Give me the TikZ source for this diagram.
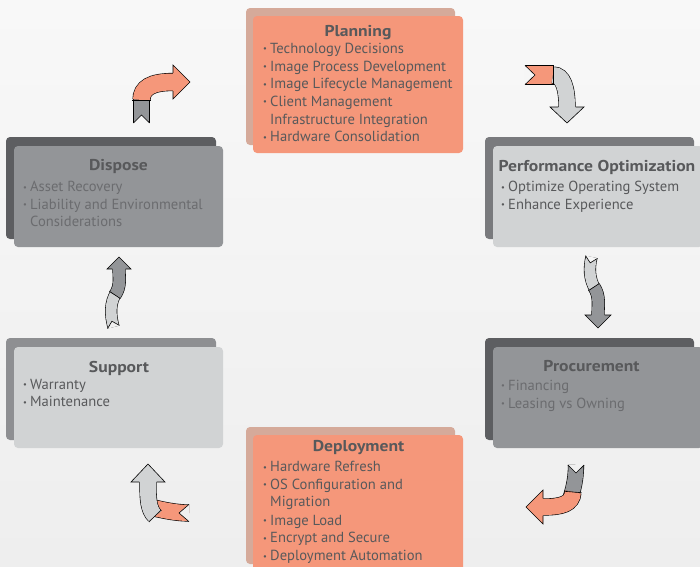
\documentclass[tikz,border=0pt]{standalone}
\usepackage{fontspec}
\setmainfont{PT Sans}
\newfontfamily\titlefont{PT Sans}[FakeStretch=1.12]
\usepackage{tikz}
\definecolor{salmon}{HTML}{F5977A}
\definecolor{salmonback}{HTML}{D5AA9A}
\definecolor{lightgr}{HTML}{D1D3D4}
\definecolor{midgr}{HTML}{939598}
\definecolor{darkgr}{HTML}{5D5E61}
\definecolor{perfback}{HTML}{797A7D}
\definecolor{suppback}{HTML}{8E8F92}
\definecolor{txt}{HTML}{58595B}
\definecolor{txtlight}{HTML}{6B6C6F}
\definecolor{bgtop}{HTML}{F8F8F8}
\definecolor{bgbot}{HTML}{EEEEEE}
\colorlet{bgup}{bgtop!80!bgbot}
\colorlet{bglow}{bgtop!25!bgbot}
\newcommand{\bul}{\llap{\raisebox{1.7pt}{\fontsize{8.5}{8.5}\selectfont\textbullet}\hspace{3.2pt}}}

\begin{document}
\begin{tikzpicture}[x=1pt, y=-1pt,
  every node/.style={font=\fontsize{14.6}{16}\selectfont, text=txt, inner sep=0pt},
  title/.style={font=\fontsize{15.7}{16}\selectfont\titlefont\bfseries, anchor=base},
  item/.style={anchor=base west},
  band/.style={draw=black, line width=0.6pt, double distance=#1},
  tip/.style={draw=black, line width=0.6pt}]
  \useasboundingbox (0,0) rectangle (700,566);
  \clip (0,0) rectangle (700,566);
  \shade[top color=bgtop, bottom color=bgbot] (0,0) rectangle (700,566);

  % Planning
  \fill[salmonback, rounded corners=4pt] (246,8) rectangle (455,145);
  \fill[salmon, rounded corners=4pt] (253,16) rectangle (463,153);
  \node[title] (plan) at (358,36) {Planning};
  \node[item] (plan-1) at (270,53.3) {\bul Technology Decisions};
  \node[item] (plan-2) at (270,71) {\bul Image Process Development};
  \node[item] (plan-3) at (270,88.7) {\bul Image Lifecycle Management};
  \node[item] (plan-4) at (270,106.3) {\bul Client Management};
  \node[item] (plan-5) at (270,124) {Infrastructure Integration};
  \node[item] (plan-6) at (270,141.7) {\bul Hardware Consolidation};

  % Performance Optimization
  \fill[perfback, rounded corners=4pt] (485,137) rectangle (694,239);
  \fill[lightgr, rounded corners=4pt] (493,146) rectangle (703,247);
  \node[title] (perf) at (597,171.7) {Performance Optimization};
  \node[item] (perf-1) at (508,191.7) {\bul Optimize Operating System};
  \node[item] (perf-2) at (508,209.3) {\bul Enhance Experience};

  % Procurement
  \fill[darkgr, rounded corners=4pt] (485,338) rectangle (694,440);
  \fill[midgr, rounded corners=4pt] (493,347) rectangle (703,448);
  \node[title] (proc) at (591.5,371.7) {Procurement};
  \node[item, text=txtlight] (proc-1) at (508,390) {\bul Financing};
  \node[item, text=txtlight] (proc-2) at (508,408.3) {\bul Leasing vs Owning};

  % Deployment
  \fill[salmonback, rounded corners=4pt] (246,427) rectangle (455,564);
  \fill[salmon, rounded corners=4pt] (253,435) rectangle (463,572);
  \node[title] (depl) at (358.5,451.7) {Deployment};
  \node[item] (depl-1) at (270,471.7) {\bul Hardware Refresh};
  \node[item] (depl-2) at (270,489.3) {\bul OS Configuration and};
  \node[item] (depl-3) at (270,506.7) {Migration};
  \node[item] (depl-4) at (270,525) {\bul Image Load};
  \node[item] (depl-5) at (270,542.7) {\bul Encrypt and Secure};
  \node[item] (depl-6) at (270,560.7) {\bul Deployment Automation};

  % Support
  \fill[suppback, rounded corners=4pt] (6,338) rectangle (216,440);
  \fill[lightgr, rounded corners=4pt] (14,347) rectangle (223,448);
  \node[title] (supp) at (119,372.3) {Support};
  \node[item] (supp-1) at (30,389.3) {\bul Warranty};
  \node[item] (supp-2) at (30,406.7) {\bul Maintenance};

  % Dispose
  \fill[darkgr, rounded corners=4pt] (6,137) rectangle (216,239);
  \fill[midgr, rounded corners=4pt] (14,146) rectangle (223,247);
  \node[title] (disp) at (118.5,170.7) {Dispose};
  \node[item, text=txtlight] (disp-1) at (30,191.7) {\bul Asset Recovery};
  \node[item, text=txtlight] (disp-2) at (30,209.3) {\bul Liability and Environmental};
  \node[item, text=txtlight] (disp-3) at (30,226.7) {Considerations};

  % Dispose -> Planning
  \draw[band=15pt, double=midgr] (141.5,123) -- (141.5,94);
  \fill[bgup] (133.4,123.1) -- (141.5,115) -- (149.6,123.1) -- cycle;
  \draw[tip] (133.4,123) -- (141.5,115) -- (149.6,123);
  \draw[band=17pt, double=salmon] (141.5,100) .. controls (141.5,88) and (151,82) .. (173,82);
  \draw[tip] (132.4,100) -- (150.6,100);
  \fill[salmon] (173,65) -- (190,82) -- (173,99) -- cycle;
  \draw[tip] (173,72.9) -- (173,65) -- (190,82) -- (173,99) -- (173,91.1);

  % Planning -> Performance Optimization
  \draw[band=18pt, double=salmon] (525,75) -- (554,75);
  \fill[bgup] (524.9,65.4) -- (535,75) -- (524.9,84.6) -- cycle;
  \draw[tip] (525,65.4) -- (535,75) -- (525,84.6);
  \draw[band=16pt, double=lightgr] (553,75) .. controls (563,75) and (567,88) .. (567,107);
  \draw[tip] (553,66.4) -- (553,83.6);
  \fill[lightgr] (550,107) -- (567,123) -- (584,107) -- cycle;
  \draw[tip] (558.4,107) -- (550,107) -- (567,123) -- (584,107) -- (575.6,107);

  % Performance Optimization -> Procurement
  \draw[band=11pt, double=lightgr] (591.5,257) .. controls (589,268) and (589,278) .. (595,289);
  \fill[bgup] (585.5,255.6) -- (590.2,262.9) -- (597.5,258.4) -- cycle;
  \draw[tip] (585.55,255.65) -- (590.2,262.9) -- (597.45,258.35);
  \draw[band=12pt, double=midgr] (594,287) .. controls (600,296) and (598,305) .. (598,315);
  \draw[tip] (599.5,283.3) -- (588.5,290.7);
  \fill[midgr] (585,315) -- (598,328) -- (611,315) -- cycle;
  \draw[tip] (591.4,315) -- (585,315) -- (598,328) -- (611,315) -- (604.6,315);

  % Procurement -> Deployment
  \draw[band=15pt, double=midgr] (576,465) .. controls (576,480) and (573,490) .. (570,500);
  \fill[bglow] (567.9,465) -- (576,473) -- (584.1,465) -- cycle;
  \draw[tip] (567.9,465) -- (576,473) -- (584.1,465);
  \draw[band=16pt, double=salmon] (573,492) .. controls (572,504) and (562,507) .. (543,507);
  \draw[tip] (564.4,491.3) -- (581.6,492.7);
  \fill[salmon] (543,490) -- (526,507) -- (543,524) -- cycle;
  \draw[tip] (543,498.4) -- (543,490) -- (526,507) -- (543,524) -- (543,515.6);

  % Deployment -> Support
  \draw[band=16pt, double=salmon] (189,513) .. controls (176,513) and (162,510) .. (150,507);
  \fill[bglow] (189.1,504.4) -- (179,513) -- (189.1,521.6) -- cycle;
  \draw[tip] (189,504.4) -- (179,513) -- (189,521.6);
  \draw[band=16pt, double=lightgr] (155,516) .. controls (148,509) and (148,498) .. (148,482);
  \draw[tip] (161.1,509.9) -- (148.9,522.1);
  \fill[lightgr] (131,482) -- (148,464) -- (165,482) -- cycle;
  \draw[tip] (139.4,482) -- (131,482) -- (148,464) -- (165,482) -- (156.6,482);

  % Support -> Dispose
  \draw[band=11pt, double=lightgr] (113.5,327) .. controls (110,314) and (110,303) .. (116,293);
  \fill[bglow] (107.6,328.6) -- (111.9,321.2) -- (119.4,325.4) -- cycle;
  \draw[tip] (107.6,328.6) -- (111.9,321.2) -- (119.4,325.4);
  \draw[band=12pt, double=midgr] (115,295) .. controls (121,286) and (119,278) .. (119,269);
  \draw[tip] (120.5,298.7) -- (109.5,291.3);
  \fill[midgr] (107,269) -- (119,257) -- (131,269) -- cycle;
  \draw[tip] (112.4,269) -- (107,269) -- (119,257) -- (131,269) -- (125.6,269);
\end{tikzpicture}
\end{document}
